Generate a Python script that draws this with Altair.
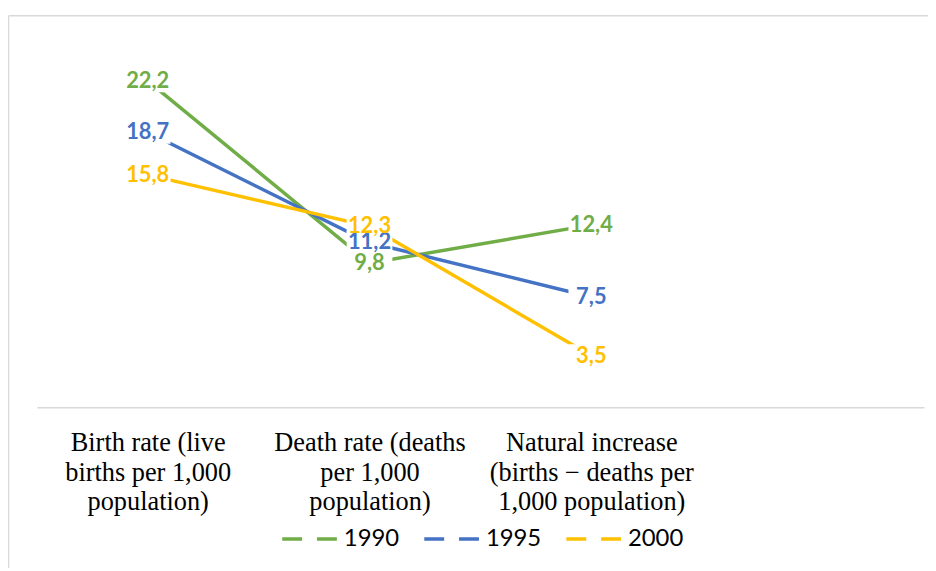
import json
import pandas as pd
import altair as alt

# ---- data ----
categories = [
    "Birth rate (live births per 1,000 population)",
    "Death rate (deaths per 1,000 population)",
    "Natural increase (births − deaths per 1,000 population)",
]
category_lines = [
    ["Birth rate (live", "births per 1,000", "population)"],
    ["Death rate (deaths", "per 1,000", "population)"],
    ["Natural increase", "(births − deaths per", "1,000 population)"],
]
years = ["1990", "1995", "2000"]
v1990 = [22.2, 9.8, 12.4]
v1995 = [18.7, 11.2, 7.5]
v2000 = [15.8, 12.3, 3.5]
colors = ["#70ad47", "#4472c4", "#ffc000"]

rows = []
for yr, vals in zip(years, [v1990, v1995, v2000]):
    for c, v in zip(categories, vals):
        rows.append({"category": c, "year": yr, "value": v,
                     "label": f"{v:.1f}".replace(".", ",")})
df = pd.DataFrame(rows)

label_expr = " : ".join(
    f"datum.value === {json.dumps(c, ensure_ascii=False)} ? {json.dumps(l, ensure_ascii=False)}"
    for c, l in zip(categories, category_lines)
) + " : ''"

x_domain = categories + [" "]

x = alt.X(
    "category:N",
    scale=alt.Scale(type="point", domain=x_domain, padding=0.5),
    axis=alt.Axis(
        title=None, labelExpr=label_expr, labelAngle=0,
        labelFont="Liberation Serif", labelFontSize=26.5, labelLineHeight=29.5,
        labelColor="#000000", labelLimit=400, labelOverlap=False,
        labelPadding=23, ticks=False, domainColor="#d9d9d9", domainWidth=1.5,
        grid=False,
    ),
)
y = alt.Y("value:Q", scale=alt.Scale(domain=[0, 25], nice=False, zero=True), axis=None)

color_scale = alt.Scale(domain=years, range=colors)

base = alt.Chart(df)

lines = base.mark_line(strokeWidth=3.5, strokeCap="round").encode(
    x=x, y=y,
    color=alt.Color(
        "year:N", scale=color_scale,
        legend=alt.Legend(
            title=None, orient="none", legendX=245, legendY=473,
            direction="horizontal", symbolType="stroke", symbolSize=3025,
            symbolStrokeWidth=3.5, symbolDash=[20, 15],
            labelFont="Lato", labelFontSize=24, labelColor="#000000",
            labelOffset=5, columnPadding=18, padding=0, labelLimit=200,
        ),
    ),
)

boxes = base.mark_point(
    shape="M-1,-0.5H1V0.5H-1Z", filled=True, fill="white",
    strokeWidth=0, opacity=1, size=2116,
).encode(x=x, y=y)

texts = base.mark_text(
    font="Lato", fontSize=22, fontWeight="bold", align="center", baseline="middle",
).encode(
    x=x, y=y, text="label:N",
    color=alt.Color("year:N", scale=color_scale, legend=None),
)

frame = pd.DataFrame({"b": [0]})
border_left = alt.Chart(frame).mark_rule(color="#d9d9d9", strokeWidth=1.5).encode(
    x=alt.value(-28.5), y=alt.value(-24), y2=alt.value(560)
)
border_top = alt.Chart(frame).mark_rule(color="#d9d9d9", strokeWidth=1.5).encode(
    x=alt.value(-28.5), x2=alt.value(920), y=alt.value(-24)
)

chart = alt.layer(border_left, border_top, lines, boxes, texts).properties(
    width=893, height=370,
    padding={"left": 29, "top": 30, "right": 4, "bottom": 160},
    autosize=alt.AutoSizeParams(type="none"),
).configure_view(stroke="transparent")

chart.save("out.html", embed_options={"renderer": "svg", "actions": False})
